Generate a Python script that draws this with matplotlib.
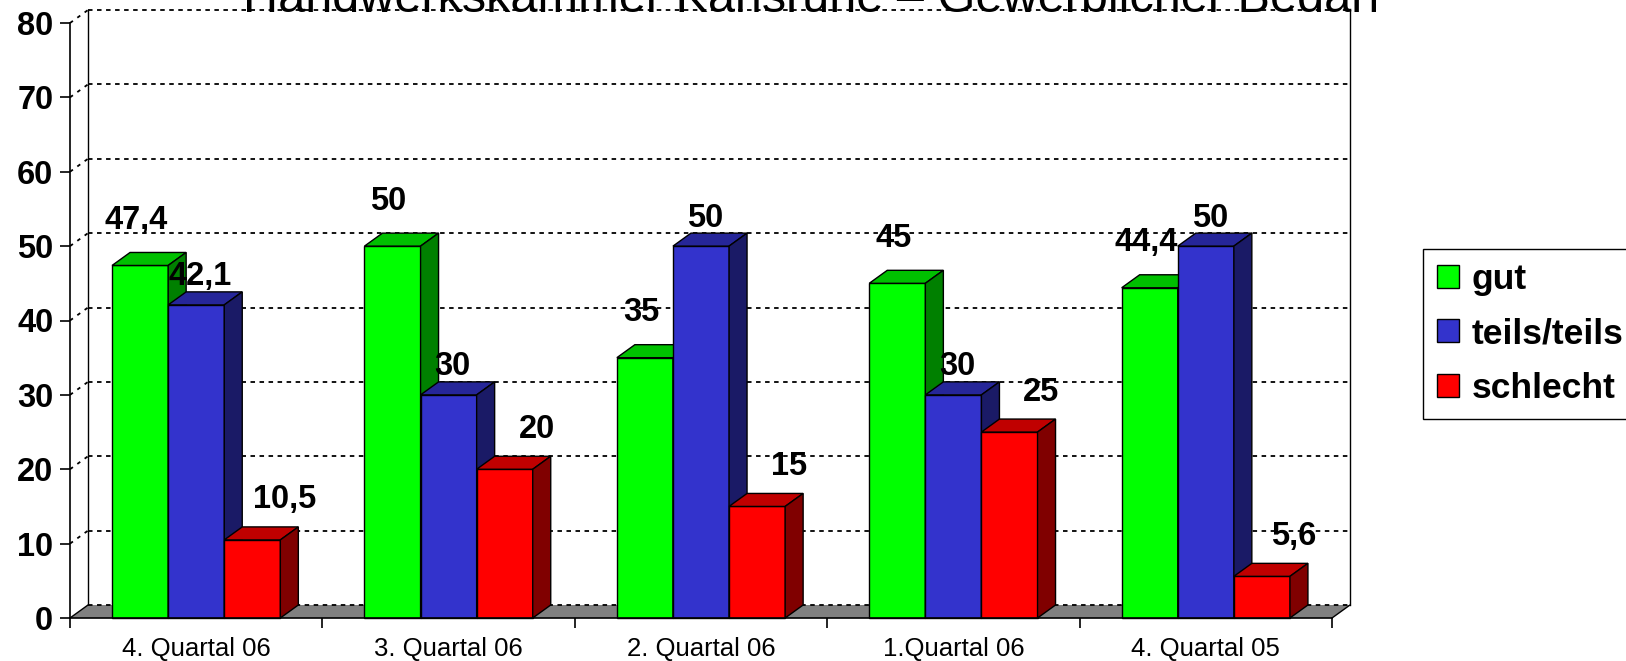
import numpy as np
import matplotlib.pyplot as plt
from matplotlib.patches import Polygon, Rectangle, Patch

plt.rcParams['font.family'] = ['Liberation Sans', 'DejaVu Sans']

# data
categories = ["4. Quartal 06", "3. Quartal 06", "2. Quartal 06", "1.Quartal 06", "4. Quartal 05"]
series = ["gut", "teils/teils", "schlecht"]
gut = [47.4, 50, 35, 45, 44.4]
teils = [42.1, 30, 50, 30, 50]
schlecht = [10.5, 20, 15, 25, 5.6]
yticks = [0, 10, 20, 30, 40, 50, 60, 70, 80]

# front, top, side shades
colors = [("#00FF00", "#00C000", "#008000"),
          ("#3333CC", "#262699", "#1A1A66"),
          ("#FF0000", "#C00000", "#800000")]
label_offsets = [(-4, 45), (4, 28), (32, 40)]   # pixels

W, H = 1626, 661
fig = plt.figure(figsize=(W / 100, H / 100), dpi=100)
ax = fig.add_axes([70 / W, 43 / H, 1262 / W, 595 / H])
n = len(categories)
ax.set_xlim(0, n)
ax.set_ylim(0, 80)
ax.patch.set_visible(False)

# depth of the 3d effect, pixels -> data units
dx = 18 * n / 1262
dy = 13 * 80 / 595

# back wall + grid
ax.plot([dx, dx], [dy, 80 + dy], color='black', lw=1, zorder=0.5, clip_on=False)
ax.plot([n + dx, n + dx], [dy, 80 + dy], color='black', lw=1, zorder=0.5, clip_on=False)
for v in yticks:
    ax.plot([dx, n + dx], [v + dy, v + dy], color='black', lw=1.3, ls=(0, (2.5, 2.5)),
            zorder=0.9, clip_on=False)
    if v > 0:
        ax.plot([0, dx], [v, v + dy], color='black', lw=1.3, ls=(0, (2, 3)),
                zorder=0.5, clip_on=False)

# floor
ax.add_patch(Polygon([(0, 0), (n, 0), (n + dx, dy), (dx, dy)], closed=True,
                     fc='#808080', ec='none', zorder=0.8, clip_on=False))
ax.plot([0, dx], [0, dy], color='black', lw=1, zorder=0.9, clip_on=False)
ax.plot([n, n + dx], [0, dy], color='black', lw=1, zorder=0.9, clip_on=False)

# bars
w = 2 / 9
for j, vals in enumerate([gut, teils, schlecht]):
    fc, tc, sc = colors[j]
    for i, v in enumerate(vals):
        x0 = i + 1 / 6 + j * w
        x1 = x0 + w
        z = 3 + j
        ax.add_patch(Rectangle((x0, 0), w, v, fc=fc, ec='black', lw=1, zorder=z, clip_on=False))
        ax.add_patch(Polygon([(x0, v), (x1, v), (x1 + dx, v + dy), (x0 + dx, v + dy)],
                             closed=True, fc=tc, ec='black', lw=1, zorder=z, clip_on=False))
        ax.add_patch(Polygon([(x1, 0), (x1, v), (x1 + dx, v + dy), (x1 + dx, dy)],
                             closed=True, fc=sc, ec='black', lw=1, zorder=z, clip_on=False))
        ax.annotate(f"{v:g}".replace('.', ','), (x0 + w / 2, v),
                    xytext=label_offsets[j], textcoords='offset pixels',
                    ha='center', va='center', fontsize=23.5, fontweight='bold',
                    zorder=10, annotation_clip=False)

# axes
ax.spines['top'].set_visible(False)
ax.spines['right'].set_visible(False)
ax.spines['left'].set_linewidth(1.2)
ax.spines['bottom'].set_linewidth(1.2)
ax.spines['left'].set_zorder(6)
ax.spines['bottom'].set_zorder(6)
ax.set_yticks(yticks)
ax.set_yticklabels([str(t) for t in yticks], fontsize=23.5, fontweight='bold')
ax.tick_params(axis='y', length=7, width=1.2, pad=5)
ax.set_xticks(range(n + 1))
ax.set_xticklabels([])
ax.tick_params(axis='x', which='major', length=7, width=1.2)
ax.set_xticks(np.arange(n) + 0.5, minor=True)
ax.set_xticklabels(categories, minor=True, fontsize=18.5)
ax.tick_params(axis='x', which='minor', length=0, pad=14)

# title, mostly cut off at the top edge
fig.text(812 / W, 1 - 12 / H, "Handwerkskammer Karlsruhe – Gewerblicher Bedarf",
         ha='center', va='baseline', fontsize=35)

handles = [Patch(fc=colors[k][0], ec='black', lw=1, label=series[k]) for k in range(3)]
leg = fig.legend(handles=handles, loc='upper left', bbox_to_anchor=(1423 / W, 1 - 249 / H),
                 bbox_transform=fig.transFigure, fancybox=False, edgecolor='black',
                 framealpha=1, borderaxespad=0, borderpad=0.4,
                 prop={'weight': 'bold', 'size': 25.5},
                 handlelength=0.62, handleheight=0.62, handletextpad=0.35,
                 labelspacing=0.6)
leg.get_frame().set_linewidth(1)

fig.savefig('out.png', dpi=100)
